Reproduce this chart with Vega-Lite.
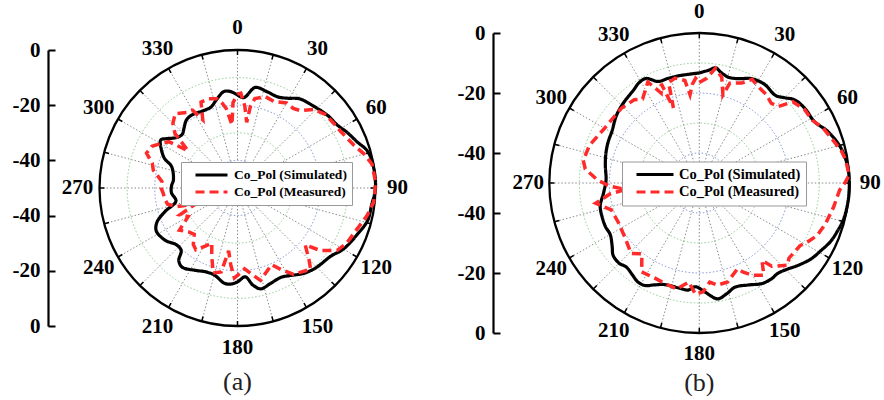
{
  "$schema": "https://vega.github.io/schema/vega-lite/v6.json",
  "padding": {"left": 12, "top": 0, "right": 0, "bottom": 0},
  "background": "white",
  "config": {"view": {"stroke": null}, "font": "Liberation Serif"},
  "spacing": 45,
  "bounds": "flush",
  "datasets": {
    "angles": [{"ang":0},{"ang":15},{"ang":30},{"ang":45},{"ang":60},{"ang":75},{"ang":90},{"ang":105},{"ang":120},{"ang":135},{"ang":150},{"ang":165},{"ang":180},{"ang":195},{"ang":210},{"ang":225},{"ang":240},{"ang":255},{"ang":270},{"ang":285},{"ang":300},{"ang":315},{"ang":330},{"ang":345}],
    "ringsG": [{"db":-10},{"db":-30}],
    "ringsB": [{"db":-20},{"db":-40}],
    "outer": [{"db":0}],
    "curves": [
      {"panel":"a","series":"Co_Pol (Simulated)","ang":0,"db":-16.3},{"panel":"a","series":"Co_Pol (Simulated)","ang":4,"db":-17.2},{"panel":"a","series":"Co_Pol (Simulated)","ang":10,"db":-13.0},{"panel":"a","series":"Co_Pol (Simulated)","ang":17,"db":-13.5},{"panel":"a","series":"Co_Pol (Simulated)","ang":24,"db":-13.9},{"panel":"a","series":"Co_Pol (Simulated)","ang":29,"db":-12.8},{"panel":"a","series":"Co_Pol (Simulated)","ang":35,"db":-10.6},{"panel":"a","series":"Co_Pol (Simulated)","ang":43,"db":-9.5},{"panel":"a","series":"Co_Pol (Simulated)","ang":51,"db":-8.1},{"panel":"a","series":"Co_Pol (Simulated)","ang":58,"db":-7.2},{"panel":"a","series":"Co_Pol (Simulated)","ang":63,"db":-5.5},{"panel":"a","series":"Co_Pol (Simulated)","ang":69,"db":-3.5},{"panel":"a","series":"Co_Pol (Simulated)","ang":74,"db":-1.1},{"panel":"a","series":"Co_Pol (Simulated)","ang":80,"db":-0.2},{"panel":"a","series":"Co_Pol (Simulated)","ang":90,"db":0},{"panel":"a","series":"Co_Pol (Simulated)","ang":97,"db":-1.0},{"panel":"a","series":"Co_Pol (Simulated)","ang":104,"db":-1.4},{"panel":"a","series":"Co_Pol (Simulated)","ang":111,"db":-3.4},{"panel":"a","series":"Co_Pol (Simulated)","ang":120,"db":-5.7},{"panel":"a","series":"Co_Pol (Simulated)","ang":126,"db":-8.1},{"panel":"a","series":"Co_Pol (Simulated)","ang":135,"db":-9.4},{"panel":"a","series":"Co_Pol (Simulated)","ang":142,"db":-10.8},{"panel":"a","series":"Co_Pol (Simulated)","ang":149,"db":-13},{"panel":"a","series":"Co_Pol (Simulated)","ang":154,"db":-14},{"panel":"a","series":"Co_Pol (Simulated)","ang":161,"db":-13.4},{"panel":"a","series":"Co_Pol (Simulated)","ang":167,"db":-12.5},{"panel":"a","series":"Co_Pol (Simulated)","ang":171,"db":-14.4},{"panel":"a","series":"Co_Pol (Simulated)","ang":175,"db":-17.7},{"panel":"a","series":"Co_Pol (Simulated)","ang":180,"db":-16},{"panel":"a","series":"Co_Pol (Simulated)","ang":184,"db":-15.1},{"panel":"a","series":"Co_Pol (Simulated)","ang":188,"db":-15.2},{"panel":"a","series":"Co_Pol (Simulated)","ang":195,"db":-17.4},{"panel":"a","series":"Co_Pol (Simulated)","ang":201,"db":-17.5},{"panel":"a","series":"Co_Pol (Simulated)","ang":207,"db":-16.5},{"panel":"a","series":"Co_Pol (Simulated)","ang":215,"db":-15},{"panel":"a","series":"Co_Pol (Simulated)","ang":219,"db":-16.2},{"panel":"a","series":"Co_Pol (Simulated)","ang":222,"db":-19.5},{"panel":"a","series":"Co_Pol (Simulated)","ang":227,"db":-19.8},{"panel":"a","series":"Co_Pol (Simulated)","ang":234,"db":-17.7},{"panel":"a","series":"Co_Pol (Simulated)","ang":242,"db":-16.7},{"panel":"a","series":"Co_Pol (Simulated)","ang":247,"db":-18.3},{"panel":"a","series":"Co_Pol (Simulated)","ang":252,"db":-22.4},{"panel":"a","series":"Co_Pol (Simulated)","ang":258,"db":-27.2},{"panel":"a","series":"Co_Pol (Simulated)","ang":266,"db":-26},{"panel":"a","series":"Co_Pol (Simulated)","ang":272,"db":-26.1},{"panel":"a","series":"Co_Pol (Simulated)","ang":277,"db":-26.6},{"panel":"a","series":"Co_Pol (Simulated)","ang":288,"db":-24.9},{"panel":"a","series":"Co_Pol (Simulated)","ang":292,"db":-21.5},{"panel":"a","series":"Co_Pol (Simulated)","ang":297,"db":-19},{"panel":"a","series":"Co_Pol (Simulated)","ang":302,"db":-17.2},{"panel":"a","series":"Co_Pol (Simulated)","ang":305,"db":-18.8},{"panel":"a","series":"Co_Pol (Simulated)","ang":309,"db":-21.1},{"panel":"a","series":"Co_Pol (Simulated)","ang":314,"db":-22.1},{"panel":"a","series":"Co_Pol (Simulated)","ang":318,"db":-21},{"panel":"a","series":"Co_Pol (Simulated)","ang":323,"db":-19.2},{"panel":"a","series":"Co_Pol (Simulated)","ang":328,"db":-18.8},{"panel":"a","series":"Co_Pol (Simulated)","ang":337,"db":-19.4},{"panel":"a","series":"Co_Pol (Simulated)","ang":342,"db":-19.1},{"panel":"a","series":"Co_Pol (Simulated)","ang":346,"db":-17.4},{"panel":"a","series":"Co_Pol (Simulated)","ang":352,"db":-14.7},{"panel":"a","series":"Co_Pol (Simulated)","ang":356,"db":-15},{"panel":"a","series":"Co_Pol (Simulated)","ang":360,"db":-16.3},
      {"panel":"a","series":"Co_Pol (Measured)","ang":0,"db":-16},{"panel":"a","series":"Co_Pol (Measured)","ang":2,"db":-15.6},{"panel":"a","series":"Co_Pol (Measured)","ang":5,"db":-20},{"panel":"a","series":"Co_Pol (Measured)","ang":8,"db":-26},{"panel":"a","series":"Co_Pol (Measured)","ang":9,"db":-20},{"panel":"a","series":"Co_Pol (Measured)","ang":11,"db":-17},{"panel":"a","series":"Co_Pol (Measured)","ang":17,"db":-15.4},{"panel":"a","series":"Co_Pol (Measured)","ang":23,"db":-16},{"panel":"a","series":"Co_Pol (Measured)","ang":30,"db":-14.4},{"panel":"a","series":"Co_Pol (Measured)","ang":35,"db":-14.8},{"panel":"a","series":"Co_Pol (Measured)","ang":39,"db":-13.9},{"panel":"a","series":"Co_Pol (Measured)","ang":44,"db":-10.4},{"panel":"a","series":"Co_Pol (Measured)","ang":50,"db":-8.5},{"panel":"a","series":"Co_Pol (Measured)","ang":56,"db":-8},{"panel":"a","series":"Co_Pol (Measured)","ang":61,"db":-7.4},{"panel":"a","series":"Co_Pol (Measured)","ang":70,"db":-5},{"panel":"a","series":"Co_Pol (Measured)","ang":75,"db":-2.5},{"panel":"a","series":"Co_Pol (Measured)","ang":80,"db":-0.5},{"panel":"a","series":"Co_Pol (Measured)","ang":87,"db":0},{"panel":"a","series":"Co_Pol (Measured)","ang":92,"db":-0.2},{"panel":"a","series":"Co_Pol (Measured)","ang":96,"db":-0.4},{"panel":"a","series":"Co_Pol (Measured)","ang":102,"db":-2},{"panel":"a","series":"Co_Pol (Measured)","ang":109,"db":-4.2},{"panel":"a","series":"Co_Pol (Measured)","ang":117,"db":-5.7},{"panel":"a","series":"Co_Pol (Measured)","ang":122,"db":-7.4},{"panel":"a","series":"Co_Pol (Measured)","ang":127,"db":-12.3},{"panel":"a","series":"Co_Pol (Measured)","ang":130,"db":-18},{"panel":"a","series":"Co_Pol (Measured)","ang":135,"db":-13.4},{"panel":"a","series":"Co_Pol (Measured)","ang":138,"db":-10.4},{"panel":"a","series":"Co_Pol (Measured)","ang":147,"db":-12.7},{"panel":"a","series":"Co_Pol (Measured)","ang":152,"db":-16.6},{"panel":"a","series":"Co_Pol (Measured)","ang":156,"db":-19.6},{"panel":"a","series":"Co_Pol (Measured)","ang":162,"db":-17.4},{"panel":"a","series":"Co_Pol (Measured)","ang":166,"db":-15.5},{"panel":"a","series":"Co_Pol (Measured)","ang":170,"db":-18},{"panel":"a","series":"Co_Pol (Measured)","ang":175,"db":-20.6},{"panel":"a","series":"Co_Pol (Measured)","ang":178,"db":-19.2},{"panel":"a","series":"Co_Pol (Measured)","ang":182,"db":-17.4},{"panel":"a","series":"Co_Pol (Measured)","ang":185,"db":-22},{"panel":"a","series":"Co_Pol (Measured)","ang":188,"db":-27},{"panel":"a","series":"Co_Pol (Measured)","ang":191,"db":-19},{"panel":"a","series":"Co_Pol (Measured)","ang":196,"db":-18},{"panel":"a","series":"Co_Pol (Measured)","ang":201,"db":-23.9},{"panel":"a","series":"Co_Pol (Measured)","ang":205,"db":-28},{"panel":"a","series":"Co_Pol (Measured)","ang":209,"db":-25.9},{"panel":"a","series":"Co_Pol (Measured)","ang":214,"db":-23},{"panel":"a","series":"Co_Pol (Measured)","ang":218,"db":-24},{"panel":"a","series":"Co_Pol (Measured)","ang":223,"db":-27},{"panel":"a","series":"Co_Pol (Measured)","ang":228,"db":-26.2},{"panel":"a","series":"Co_Pol (Measured)","ang":234,"db":-24},{"panel":"a","series":"Co_Pol (Measured)","ang":240,"db":-29.4},{"panel":"a","series":"Co_Pol (Measured)","ang":245,"db":-27},{"panel":"a","series":"Co_Pol (Measured)","ang":249,"db":-33.6},{"panel":"a","series":"Co_Pol (Measured)","ang":253,"db":-27},{"panel":"a","series":"Co_Pol (Measured)","ang":257,"db":-24},{"panel":"a","series":"Co_Pol (Measured)","ang":261,"db":-23.4},{"panel":"a","series":"Co_Pol (Measured)","ang":266,"db":-23},{"panel":"a","series":"Co_Pol (Measured)","ang":270,"db":-22.3},{"panel":"a","series":"Co_Pol (Measured)","ang":275,"db":-22.5},{"panel":"a","series":"Co_Pol (Measured)","ang":282,"db":-18.8},{"panel":"a","series":"Co_Pol (Measured)","ang":286,"db":-17.9},{"panel":"a","series":"Co_Pol (Measured)","ang":291,"db":-14.7},{"panel":"a","series":"Co_Pol (Measured)","ang":296,"db":-15.5},{"panel":"a","series":"Co_Pol (Measured)","ang":300,"db":-17.8},{"panel":"a","series":"Co_Pol (Measured)","ang":304,"db":-20},{"panel":"a","series":"Co_Pol (Measured)","ang":307,"db":-27.6},{"panel":"a","series":"Co_Pol (Measured)","ang":311,"db":-20},{"panel":"a","series":"Co_Pol (Measured)","ang":315,"db":-16.9},{"panel":"a","series":"Co_Pol (Measured)","ang":320,"db":-14.9},{"panel":"a","series":"Co_Pol (Measured)","ang":326,"db":-17},{"panel":"a","series":"Co_Pol (Measured)","ang":330,"db":-17.5},{"panel":"a","series":"Co_Pol (Measured)","ang":333,"db":-22.3},{"panel":"a","series":"Co_Pol (Measured)","ang":337,"db":-16.2},{"panel":"a","series":"Co_Pol (Measured)","ang":342,"db":-16},{"panel":"a","series":"Co_Pol (Measured)","ang":347,"db":-16.8},{"panel":"a","series":"Co_Pol (Measured)","ang":350,"db":-19},{"panel":"a","series":"Co_Pol (Measured)","ang":352,"db":-21},{"panel":"a","series":"Co_Pol (Measured)","ang":355,"db":-27},{"panel":"a","series":"Co_Pol (Measured)","ang":357,"db":-19},{"panel":"a","series":"Co_Pol (Measured)","ang":360,"db":-16},
      {"panel":"b","series":"Co_Pol (Simulated)","ang":0,"db":-13.3},{"panel":"b","series":"Co_Pol (Simulated)","ang":5,"db":-12.2},{"panel":"b","series":"Co_Pol (Simulated)","ang":8,"db":-11.2},{"panel":"b","series":"Co_Pol (Simulated)","ang":11,"db":-12.4},{"panel":"b","series":"Co_Pol (Simulated)","ang":15,"db":-13.4},{"panel":"b","series":"Co_Pol (Simulated)","ang":18,"db":-13.3},{"panel":"b","series":"Co_Pol (Simulated)","ang":22,"db":-12.5},{"panel":"b","series":"Co_Pol (Simulated)","ang":26,"db":-11.2},{"panel":"b","series":"Co_Pol (Simulated)","ang":30,"db":-10.7},{"panel":"b","series":"Co_Pol (Simulated)","ang":34,"db":-10.6},{"panel":"b","series":"Co_Pol (Simulated)","ang":41,"db":-11.3},{"panel":"b","series":"Co_Pol (Simulated)","ang":45,"db":-9.8},{"panel":"b","series":"Co_Pol (Simulated)","ang":49,"db":-7.8},{"panel":"b","series":"Co_Pol (Simulated)","ang":55,"db":-6.9},{"panel":"b","series":"Co_Pol (Simulated)","ang":62,"db":-6.5},{"panel":"b","series":"Co_Pol (Simulated)","ang":68,"db":-3.9},{"panel":"b","series":"Co_Pol (Simulated)","ang":76,"db":-1.4},{"panel":"b","series":"Co_Pol (Simulated)","ang":84,"db":-0.2},{"panel":"b","series":"Co_Pol (Simulated)","ang":90,"db":0},{"panel":"b","series":"Co_Pol (Simulated)","ang":96,"db":0},{"panel":"b","series":"Co_Pol (Simulated)","ang":104,"db":-0.4},{"panel":"b","series":"Co_Pol (Simulated)","ang":109,"db":-1.2},{"panel":"b","series":"Co_Pol (Simulated)","ang":114,"db":-2.1},{"panel":"b","series":"Co_Pol (Simulated)","ang":119,"db":-3.6},{"panel":"b","series":"Co_Pol (Simulated)","ang":124,"db":-4.9},{"panel":"b","series":"Co_Pol (Simulated)","ang":130,"db":-7.2},{"panel":"b","series":"Co_Pol (Simulated)","ang":134,"db":-8.8},{"panel":"b","series":"Co_Pol (Simulated)","ang":139,"db":-10.1},{"panel":"b","series":"Co_Pol (Simulated)","ang":143,"db":-10},{"panel":"b","series":"Co_Pol (Simulated)","ang":148,"db":-10.5},{"panel":"b","series":"Co_Pol (Simulated)","ang":154,"db":-12.2},{"panel":"b","series":"Co_Pol (Simulated)","ang":161,"db":-13.3},{"panel":"b","series":"Co_Pol (Simulated)","ang":166,"db":-12},{"panel":"b","series":"Co_Pol (Simulated)","ang":171,"db":-10.9},{"panel":"b","series":"Co_Pol (Simulated)","ang":177,"db":-13.6},{"panel":"b","series":"Co_Pol (Simulated)","ang":182,"db":-15.4},{"panel":"b","series":"Co_Pol (Simulated)","ang":186,"db":-14.1},{"panel":"b","series":"Co_Pol (Simulated)","ang":190,"db":-14.3},{"panel":"b","series":"Co_Pol (Simulated)","ang":199,"db":-14.2},{"panel":"b","series":"Co_Pol (Simulated)","ang":204,"db":-12.8},{"panel":"b","series":"Co_Pol (Simulated)","ang":208,"db":-11.3},{"panel":"b","series":"Co_Pol (Simulated)","ang":212,"db":-11.2},{"panel":"b","series":"Co_Pol (Simulated)","ang":216,"db":-12.1},{"panel":"b","series":"Co_Pol (Simulated)","ang":221,"db":-12.9},{"panel":"b","series":"Co_Pol (Simulated)","ang":225,"db":-12.2},{"panel":"b","series":"Co_Pol (Simulated)","ang":230,"db":-12.5},{"panel":"b","series":"Co_Pol (Simulated)","ang":234,"db":-14.1},{"panel":"b","series":"Co_Pol (Simulated)","ang":240,"db":-15.7},{"panel":"b","series":"Co_Pol (Simulated)","ang":245,"db":-15.5},{"panel":"b","series":"Co_Pol (Simulated)","ang":251,"db":-15.7},{"panel":"b","series":"Co_Pol (Simulated)","ang":257,"db":-16.1},{"panel":"b","series":"Co_Pol (Simulated)","ang":264,"db":-17.9},{"panel":"b","series":"Co_Pol (Simulated)","ang":272,"db":-18.9},{"panel":"b","series":"Co_Pol (Simulated)","ang":280,"db":-18.2},{"panel":"b","series":"Co_Pol (Simulated)","ang":287,"db":-17.4},{"panel":"b","series":"Co_Pol (Simulated)","ang":294,"db":-16.7},{"panel":"b","series":"Co_Pol (Simulated)","ang":301,"db":-16.1},{"panel":"b","series":"Co_Pol (Simulated)","ang":309,"db":-14.4},{"panel":"b","series":"Co_Pol (Simulated)","ang":316,"db":-13.3},{"panel":"b","series":"Co_Pol (Simulated)","ang":325,"db":-12},{"panel":"b","series":"Co_Pol (Simulated)","ang":329,"db":-11},{"panel":"b","series":"Co_Pol (Simulated)","ang":333,"db":-10.9},{"panel":"b","series":"Co_Pol (Simulated)","ang":338,"db":-13.5},{"panel":"b","series":"Co_Pol (Simulated)","ang":343,"db":-13.6},{"panel":"b","series":"Co_Pol (Simulated)","ang":349,"db":-13.6},{"panel":"b","series":"Co_Pol (Simulated)","ang":354,"db":-13.6},{"panel":"b","series":"Co_Pol (Simulated)","ang":360,"db":-13.3},
      {"panel":"b","series":"Co_Pol (Measured)","ang":0,"db":-16.5},{"panel":"b","series":"Co_Pol (Measured)","ang":4,"db":-15},{"panel":"b","series":"Co_Pol (Measured)","ang":8,"db":-11.4},{"panel":"b","series":"Co_Pol (Measured)","ang":12,"db":-14},{"panel":"b","series":"Co_Pol (Measured)","ang":15,"db":-19.6},{"panel":"b","series":"Co_Pol (Measured)","ang":17,"db":-15.2},{"panel":"b","series":"Co_Pol (Measured)","ang":23,"db":-13.8},{"panel":"b","series":"Co_Pol (Measured)","ang":27,"db":-11.2},{"panel":"b","series":"Co_Pol (Measured)","ang":31,"db":-12.3},{"panel":"b","series":"Co_Pol (Measured)","ang":37,"db":-13},{"panel":"b","series":"Co_Pol (Measured)","ang":42,"db":-14.2},{"panel":"b","series":"Co_Pol (Measured)","ang":46,"db":-13.3},{"panel":"b","series":"Co_Pol (Measured)","ang":49,"db":-8.7},{"panel":"b","series":"Co_Pol (Measured)","ang":55,"db":-7.2},{"panel":"b","series":"Co_Pol (Measured)","ang":61,"db":-6.9},{"panel":"b","series":"Co_Pol (Measured)","ang":66,"db":-4.9},{"panel":"b","series":"Co_Pol (Measured)","ang":72,"db":-3.3},{"panel":"b","series":"Co_Pol (Measured)","ang":77,"db":-1.5},{"panel":"b","series":"Co_Pol (Measured)","ang":81,"db":-0.6},{"panel":"b","series":"Co_Pol (Measured)","ang":87,"db":0},{"panel":"b","series":"Co_Pol (Measured)","ang":90,"db":-1.5},{"panel":"b","series":"Co_Pol (Measured)","ang":93,"db":-3.2},{"panel":"b","series":"Co_Pol (Measured)","ang":100,"db":-4.5},{"panel":"b","series":"Co_Pol (Measured)","ang":108,"db":-5.8},{"panel":"b","series":"Co_Pol (Measured)","ang":114,"db":-7},{"panel":"b","series":"Co_Pol (Measured)","ang":118,"db":-8.7},{"panel":"b","series":"Co_Pol (Measured)","ang":122,"db":-10.5},{"panel":"b","series":"Co_Pol (Measured)","ang":130,"db":-11},{"panel":"b","series":"Co_Pol (Measured)","ang":133,"db":-9.8},{"panel":"b","series":"Co_Pol (Measured)","ang":139,"db":-13.2},{"panel":"b","series":"Co_Pol (Measured)","ang":141,"db":-16.8},{"panel":"b","series":"Co_Pol (Measured)","ang":145,"db":-12.5},{"panel":"b","series":"Co_Pol (Measured)","ang":150,"db":-14.5},{"panel":"b","series":"Co_Pol (Measured)","ang":154,"db":-17},{"panel":"b","series":"Co_Pol (Measured)","ang":156,"db":-18.7},{"panel":"b","series":"Co_Pol (Measured)","ang":164,"db":-15.7},{"panel":"b","series":"Co_Pol (Measured)","ang":170,"db":-15.4},{"panel":"b","series":"Co_Pol (Measured)","ang":174,"db":-16.8},{"panel":"b","series":"Co_Pol (Measured)","ang":178,"db":-13.7},{"panel":"b","series":"Co_Pol (Measured)","ang":182,"db":-12.9},{"panel":"b","series":"Co_Pol (Measured)","ang":186,"db":-16.8},{"panel":"b","series":"Co_Pol (Measured)","ang":192,"db":-13.9},{"panel":"b","series":"Co_Pol (Measured)","ang":199,"db":-14.6},{"panel":"b","series":"Co_Pol (Measured)","ang":205,"db":-15},{"panel":"b","series":"Co_Pol (Measured)","ang":213,"db":-14.7},{"panel":"b","series":"Co_Pol (Measured)","ang":219,"db":-19.6},{"panel":"b","series":"Co_Pol (Measured)","ang":224,"db":-17.3},{"panel":"b","series":"Co_Pol (Measured)","ang":234,"db":-19.3},{"panel":"b","series":"Co_Pol (Measured)","ang":244,"db":-20},{"panel":"b","series":"Co_Pol (Measured)","ang":253,"db":-19.3},{"panel":"b","series":"Co_Pol (Measured)","ang":259,"db":-14.8},{"panel":"b","series":"Co_Pol (Measured)","ang":263,"db":-20},{"panel":"b","series":"Co_Pol (Measured)","ang":265,"db":-25.3},{"panel":"b","series":"Co_Pol (Measured)","ang":268,"db":-20},{"panel":"b","series":"Co_Pol (Measured)","ang":272,"db":-15.8},{"panel":"b","series":"Co_Pol (Measured)","ang":277,"db":-11.7},{"panel":"b","series":"Co_Pol (Measured)","ang":281,"db":-10.6},{"panel":"b","series":"Co_Pol (Measured)","ang":289,"db":-11.3},{"panel":"b","series":"Co_Pol (Measured)","ang":299,"db":-13.4},{"panel":"b","series":"Co_Pol (Measured)","ang":307,"db":-14},{"panel":"b","series":"Co_Pol (Measured)","ang":314,"db":-14},{"panel":"b","series":"Co_Pol (Measured)","ang":322,"db":-14.8},{"panel":"b","series":"Co_Pol (Measured)","ang":326,"db":-16.2},{"panel":"b","series":"Co_Pol (Measured)","ang":333,"db":-12.2},{"panel":"b","series":"Co_Pol (Measured)","ang":337,"db":-17.4},{"panel":"b","series":"Co_Pol (Measured)","ang":339,"db":-14.6},{"panel":"b","series":"Co_Pol (Measured)","ang":341,"db":-23.5},{"panel":"b","series":"Co_Pol (Measured)","ang":343,"db":-15},{"panel":"b","series":"Co_Pol (Measured)","ang":347,"db":-14.1},{"panel":"b","series":"Co_Pol (Measured)","ang":352,"db":-15.5},{"panel":"b","series":"Co_Pol (Measured)","ang":354,"db":-20.4},{"panel":"b","series":"Co_Pol (Measured)","ang":356,"db":-17},{"panel":"b","series":"Co_Pol (Measured)","ang":358,"db":-15.1},{"panel":"b","series":"Co_Pol (Measured)","ang":360,"db":-16.5}
    ]
  },
  "hconcat": [
    {
      "width": 400, "height": 360,
      "title": {"text": "(a)", "orient": "bottom", "anchor": "middle", "dx": -10.5, "offset": 6, "font": "Liberation Serif", "fontSize": 26, "fontWeight": "normal", "color": "#222", "baseline": "top"},
      "layer": [
        {
          "data": {"name": "angles"},
          "transform": [{"calculate": "0", "as": "cx"}, {"calculate": "0", "as": "cy"}, {"calculate": "50*sin(datum.ang*PI/180)", "as": "ex"}, {"calculate": "50*cos(datum.ang*PI/180)", "as": "ey"}],
          "mark": {"type": "rule", "stroke": "#6e6e6e", "strokeWidth": 0.8, "strokeDash": [1.5, 2]},
          "encoding": {
            "x": {"field": "cx", "type": "quantitative", "scale": {"domain": [-50, 50], "range": [51.5, 327.5], "nice": false, "zero": false}, "axis": null},
            "y": {"field": "cy", "type": "quantitative", "scale": {"domain": [-50, 50], "range": [323, 47], "nice": false, "zero": false},
                  "axis": {"values": [-50,-40,-30,-20,-10,0,10,20,30,40,50], "labelExpr": "datum.value % 20 != 0 ? (abs(datum.value) - 50) + '' : ''", "title": null, "grid": false, "domainColor": "black", "domainWidth": 2.2, "tickColor": "black", "tickWidth": 2, "tickSize": -7, "labelPadding": 15, "labelFont": "Liberation Serif", "labelFontSize": 21, "labelFontWeight": "bold", "labelColor": "black", "labelFlush": false, "labelOverlap": false}},
            "x2": {"field": "ex"}, "y2": {"field": "ey"}
          }
        },
        {
          "data": {"name": "ringsG"},
          "transform": [{"calculate": "datum.db + 50", "as": "rr"}, {"calculate": "0", "as": "cx"}, {"calculate": "0", "as": "cy"}],
          "mark": {"type": "point", "filled": false, "opacity": 1, "stroke": "#86c686", "strokeWidth": 0.9, "strokeDash": [1.5, 2]},
          "encoding": {
            "x": {"field": "cx", "type": "quantitative"},
            "y": {"field": "cy", "type": "quantitative"},
            "size": {"field": "rr", "type": "quantitative", "scale": {"type": "pow", "exponent": 2, "domain": [0, 50], "range": [0, 76176]}, "legend": null}
          }
        },
        {
          "data": {"name": "ringsB"},
          "transform": [{"calculate": "datum.db + 50", "as": "rr"}, {"calculate": "0", "as": "cx"}, {"calculate": "0", "as": "cy"}],
          "mark": {"type": "point", "filled": false, "opacity": 1, "stroke": "#7088d0", "strokeWidth": 0.9, "strokeDash": [1.5, 2]},
          "encoding": {
            "x": {"field": "cx", "type": "quantitative"},
            "y": {"field": "cy", "type": "quantitative"},
            "size": {"field": "rr", "type": "quantitative", "legend": null}
          }
        },
        {
          "data": {"name": "outer"},
          "transform": [{"calculate": "datum.db + 50", "as": "rr"}, {"calculate": "0", "as": "cx"}, {"calculate": "0", "as": "cy"}],
          "mark": {"type": "point", "filled": false, "opacity": 1, "stroke": "black", "strokeWidth": 2.3},
          "encoding": {
            "x": {"field": "cx", "type": "quantitative"},
            "y": {"field": "cy", "type": "quantitative"},
            "size": {"field": "rr", "type": "quantitative", "legend": null}
          }
        },
        {
          "data": {"name": "angles"},
          "transform": [{"calculate": "48.2*sin(datum.ang*PI/180)", "as": "cx"}, {"calculate": "48.2*cos(datum.ang*PI/180)", "as": "cy"}, {"calculate": "50*sin(datum.ang*PI/180)", "as": "ex"}, {"calculate": "50*cos(datum.ang*PI/180)", "as": "ey"}],
          "mark": {"type": "rule", "stroke": "black", "strokeWidth": 1.5},
          "encoding": {
            "x": {"field": "cx", "type": "quantitative"}, "y": {"field": "cy", "type": "quantitative"},
            "x2": {"field": "ex"}, "y2": {"field": "ey"}
          }
        },
        {
          "data": {"name": "curves"},
          "transform": [{"filter": "datum.panel == 'a' && datum.series == 'Co_Pol (Simulated)'"}, {"calculate": "(datum.db+50)*sin(datum.ang*PI/180)", "as": "cx"}, {"calculate": "(datum.db+50)*cos(datum.ang*PI/180)", "as": "cy"}],
          "mark": {"type": "line", "strokeWidth": 3.2, "interpolate": "catmull-rom"},
          "encoding": {
            "x": {"field": "cx", "type": "quantitative"}, "y": {"field": "cy", "type": "quantitative"},
            "order": {"field": "ang", "type": "quantitative"},
            "color": {"field": "series", "type": "nominal", "scale": {"domain": ["Co_Pol (Simulated)", "Co_Pol (Measured)"], "range": ["#000000", "#ff2a2a"]},
                      "legend": {"orient": "none", "legendX": 133, "legendY": 159, "title": null, "symbolType": "stroke", "symbolSize": 1024, "symbolStrokeWidth": 3, "clipHeight": 16, "labelFont": "Liberation Serif", "labelFontSize": 13.5, "labelFontWeight": "bold", "labelColor": "black", "fillColor": "white", "strokeColor": "#999", "padding": 5, "rowPadding": 1, "symbolOffset": 8, "labelOffset": 5}},
            "strokeDash": {"field": "series", "type": "nominal", "scale": {"domain": ["Co_Pol (Simulated)", "Co_Pol (Measured)"], "range": [[1, 0], [9, 5]]},
                      "legend": {"orient": "none", "legendX": 133, "legendY": 159, "title": null, "symbolType": "stroke", "symbolSize": 1024, "symbolStrokeWidth": 3, "clipHeight": 16, "labelFont": "Liberation Serif", "labelFontSize": 13.5, "labelFontWeight": "bold", "labelColor": "black", "fillColor": "white", "strokeColor": "#999", "padding": 5, "rowPadding": 1, "symbolOffset": 8, "labelOffset": 5}}
          }
        },
        {
          "data": {"name": "curves"},
          "transform": [{"filter": "datum.panel == 'a' && datum.series == 'Co_Pol (Measured)'"}, {"calculate": "(datum.db+50)*sin(datum.ang*PI/180)", "as": "cx"}, {"calculate": "(datum.db+50)*cos(datum.ang*PI/180)", "as": "cy"}],
          "mark": {"type": "line", "strokeWidth": 3.5},
          "encoding": {
            "x": {"field": "cx", "type": "quantitative"}, "y": {"field": "cy", "type": "quantitative"},
            "order": {"field": "ang", "type": "quantitative"},
            "color": {"field": "series", "type": "nominal"},
            "strokeDash": {"field": "series", "type": "nominal"}
          }
        },
        {
          "data": {"name": "angles"},
          "transform": [{"filter": "datum.ang % 30 == 0"}, {"calculate": "58*sin(datum.ang*PI/180)", "as": "cx"}, {"calculate": "58*cos(datum.ang*PI/180)", "as": "cy"}],
          "mark": {"type": "text", "font": "Liberation Serif", "fontSize": 21, "fontWeight": "bold", "color": "black", "align": "center", "baseline": "middle"},
          "encoding": {
            "x": {"field": "cx", "type": "quantitative"}, "y": {"field": "cy", "type": "quantitative"},
            "text": {"field": "ang", "type": "quantitative", "format": "d"}
          }
        }
      ]
    },
    {
      "width": 400, "height": 360,
      "title": {"text": "(b)", "orient": "bottom", "anchor": "middle", "dx": 6.3, "offset": 6, "font": "Liberation Serif", "fontSize": 26, "fontWeight": "normal", "color": "#222", "baseline": "top"},
      "layer": [
        {
          "data": {"name": "angles"},
          "transform": [{"calculate": "0", "as": "cx"}, {"calculate": "0", "as": "cy"}, {"calculate": "50*sin(datum.ang*PI/180)", "as": "ex"}, {"calculate": "50*cos(datum.ang*PI/180)", "as": "ey"}],
          "mark": {"type": "rule", "stroke": "#6e6e6e", "strokeWidth": 0.8, "strokeDash": [1.5, 2]},
          "encoding": {
            "x": {"field": "cx", "type": "quantitative", "scale": {"domain": [-50, 50], "range": [56.3, 356.3], "nice": false, "zero": false}, "axis": null},
            "y": {"field": "cy", "type": "quantitative", "scale": {"domain": [-50, 50], "range": [330, 30], "nice": false, "zero": false},
                  "axis": {"values": [-50,-40,-30,-20,-10,0,10,20,30,40,50], "labelExpr": "datum.value % 20 != 0 ? (abs(datum.value) - 50) + '' : ''", "title": null, "grid": false, "domainColor": "black", "domainWidth": 2.2, "tickColor": "black", "tickWidth": 2, "tickSize": -7, "labelPadding": 15, "labelFont": "Liberation Serif", "labelFontSize": 21, "labelFontWeight": "bold", "labelColor": "black", "labelFlush": false, "labelOverlap": false}},
            "x2": {"field": "ex"}, "y2": {"field": "ey"}
          }
        },
        {
          "data": {"name": "ringsG"},
          "transform": [{"calculate": "datum.db + 50", "as": "rr"}, {"calculate": "0", "as": "cx"}, {"calculate": "0", "as": "cy"}],
          "mark": {"type": "point", "filled": false, "opacity": 1, "stroke": "#86c686", "strokeWidth": 0.9, "strokeDash": [1.5, 2]},
          "encoding": {
            "x": {"field": "cx", "type": "quantitative"},
            "y": {"field": "cy", "type": "quantitative"},
            "size": {"field": "rr", "type": "quantitative", "scale": {"type": "pow", "exponent": 2, "domain": [0, 50], "range": [0, 90000]}, "legend": null}
          }
        },
        {
          "data": {"name": "ringsB"},
          "transform": [{"calculate": "datum.db + 50", "as": "rr"}, {"calculate": "0", "as": "cx"}, {"calculate": "0", "as": "cy"}],
          "mark": {"type": "point", "filled": false, "opacity": 1, "stroke": "#7088d0", "strokeWidth": 0.9, "strokeDash": [1.5, 2]},
          "encoding": {
            "x": {"field": "cx", "type": "quantitative"},
            "y": {"field": "cy", "type": "quantitative"},
            "size": {"field": "rr", "type": "quantitative", "legend": null}
          }
        },
        {
          "data": {"name": "outer"},
          "transform": [{"calculate": "datum.db + 50", "as": "rr"}, {"calculate": "0", "as": "cx"}, {"calculate": "0", "as": "cy"}],
          "mark": {"type": "point", "filled": false, "opacity": 1, "stroke": "black", "strokeWidth": 2.3},
          "encoding": {
            "x": {"field": "cx", "type": "quantitative"},
            "y": {"field": "cy", "type": "quantitative"},
            "size": {"field": "rr", "type": "quantitative", "legend": null}
          }
        },
        {
          "data": {"name": "angles"},
          "transform": [{"calculate": "48.3*sin(datum.ang*PI/180)", "as": "cx"}, {"calculate": "48.3*cos(datum.ang*PI/180)", "as": "cy"}, {"calculate": "50*sin(datum.ang*PI/180)", "as": "ex"}, {"calculate": "50*cos(datum.ang*PI/180)", "as": "ey"}],
          "mark": {"type": "rule", "stroke": "black", "strokeWidth": 1.5},
          "encoding": {
            "x": {"field": "cx", "type": "quantitative"}, "y": {"field": "cy", "type": "quantitative"},
            "x2": {"field": "ex"}, "y2": {"field": "ey"}
          }
        },
        {
          "data": {"name": "curves"},
          "transform": [{"filter": "datum.panel == 'b' && datum.series == 'Co_Pol (Simulated)'"}, {"calculate": "(datum.db+50)*sin(datum.ang*PI/180)", "as": "cx"}, {"calculate": "(datum.db+50)*cos(datum.ang*PI/180)", "as": "cy"}],
          "mark": {"type": "line", "strokeWidth": 3.2, "interpolate": "catmull-rom"},
          "encoding": {
            "x": {"field": "cx", "type": "quantitative"}, "y": {"field": "cy", "type": "quantitative"},
            "order": {"field": "ang", "type": "quantitative"},
            "color": {"field": "series", "type": "nominal", "scale": {"domain": ["Co_Pol (Simulated)", "Co_Pol (Measured)"], "range": ["#000000", "#ff2a2a"]},
                      "legend": {"orient": "none", "legendX": 129, "legendY": 158.5, "title": null, "symbolType": "stroke", "symbolSize": 1369, "symbolStrokeWidth": 3, "clipHeight": 16, "labelFont": "Liberation Serif", "labelFontSize": 14.5, "labelFontWeight": "bold", "labelColor": "black", "fillColor": "white", "strokeColor": "#999", "padding": 5, "rowPadding": 1.5, "symbolOffset": 8, "labelOffset": 4}},
            "strokeDash": {"field": "series", "type": "nominal", "scale": {"domain": ["Co_Pol (Simulated)", "Co_Pol (Measured)"], "range": [[1, 0], [9, 5]]},
                      "legend": {"orient": "none", "legendX": 129, "legendY": 158.5, "title": null, "symbolType": "stroke", "symbolSize": 1369, "symbolStrokeWidth": 3, "clipHeight": 16, "labelFont": "Liberation Serif", "labelFontSize": 14.5, "labelFontWeight": "bold", "labelColor": "black", "fillColor": "white", "strokeColor": "#999", "padding": 5, "rowPadding": 1.5, "symbolOffset": 8, "labelOffset": 4}}
          }
        },
        {
          "data": {"name": "curves"},
          "transform": [{"filter": "datum.panel == 'b' && datum.series == 'Co_Pol (Measured)'"}, {"calculate": "(datum.db+50)*sin(datum.ang*PI/180)", "as": "cx"}, {"calculate": "(datum.db+50)*cos(datum.ang*PI/180)", "as": "cy"}],
          "mark": {"type": "line", "strokeWidth": 3.5},
          "encoding": {
            "x": {"field": "cx", "type": "quantitative"}, "y": {"field": "cy", "type": "quantitative"},
            "order": {"field": "ang", "type": "quantitative"},
            "color": {"field": "series", "type": "nominal"},
            "strokeDash": {"field": "series", "type": "nominal"}
          }
        },
        {
          "data": {"name": "angles"},
          "transform": [{"filter": "datum.ang % 30 == 0"}, {"calculate": "57*sin(datum.ang*PI/180)", "as": "cx"}, {"calculate": "57*cos(datum.ang*PI/180)", "as": "cy"}],
          "mark": {"type": "text", "font": "Liberation Serif", "fontSize": 21, "fontWeight": "bold", "color": "black", "align": "center", "baseline": "middle"},
          "encoding": {
            "x": {"field": "cx", "type": "quantitative"}, "y": {"field": "cy", "type": "quantitative"},
            "text": {"field": "ang", "type": "quantitative", "format": "d"}
          }
        }
      ]
    }
  ],
  "resolve": {
    "scale": {"x": "independent", "y": "independent", "color": "independent", "strokeDash": "independent", "size": "independent"},
    "legend": {"color": "independent", "strokeDash": "independent"}
  }
}
